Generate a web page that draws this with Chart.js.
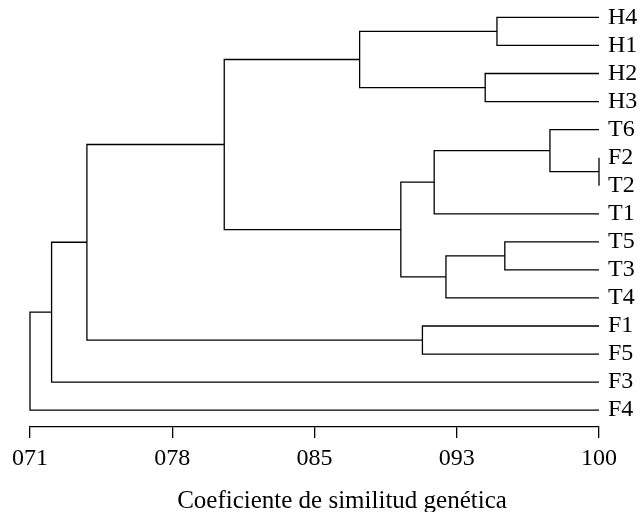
<!DOCTYPE html>
<html>
<head>
<meta charset="utf-8">
<script src="https://cdn.jsdelivr.net/npm/chart.js@4.4.0/dist/chart.umd.min.js"></script>
<style>
  html, body { margin: 0; padding: 0; background: #fff; }
  #wrap { width: 640px; height: 512px; }
</style>
</head>
<body>
<div id="wrap"><canvas id="dendro"></canvas></div>
<script>
// leaves, top to bottom
const leaves = ["H4", "H1", "H2", "H3", "T6", "F2", "T2", "T1", "T5", "T3", "T4", "F1", "F5", "F3", "F4"];

// merges: ids below 15 are leaves, merge i builds cluster 15 + i
const merges = [[5, 6], [0, 1], [2, 3], [8, 9], [4, 15], [19, 7], [18, 10], [16, 17], [11, 12], [20, 21], [22, 24], [25, 23], [26, 13], [27, 14]];
const heights = [1.00, 0.948, 0.942, 0.952, 0.975, 0.916, 0.922, 0.878, 0.910, 0.899, 0.809, 0.739, 0.721, 0.710];
const leafLevel = 1.00;

// x axis
const tickValues = [0.71, 0.7825, 0.855, 0.9275, 1.00];
const tickLabels = ["071", "078", "085", "093", "100"];
const axisTitle = "Coeficiente de similitud genética";

// node positions: x = similarity, y = leaf index (clusters sit midway)
var nodeX = [], nodeY = [];
leaves.forEach(function (l, i) {
    nodeX[i] = leafLevel;
    nodeY[i] = i;
});

var links = merges.map(function (m, i) {
    var a = m[0], b = m[1], h = heights[i];
    var id = leaves.length + i;
    nodeX[id] = h;
    nodeY[id] = (nodeY[a] + nodeY[b]) / 2;
    return {
        data: [
            { x: nodeX[a], y: nodeY[a] },
            { x: h, y: nodeY[a] },
            { x: h, y: nodeY[b] },
            { x: nodeX[b], y: nodeY[b] }
        ],
        showLine: true,
        clip: false,
        borderColor: "#000",
        borderWidth: 1.3,
        borderJoinStyle: "miter",
        pointRadius: 0,
        tension: 0,
        fill: false
    };
});

// axis title drawn a bit right of the plot centre, like the original
const axisTitlePlugin = {
    id: "axisTitle",
    afterDraw: function (chart) {
        var ctx = chart.ctx;
        ctx.save();
        ctx.font = "25px 'Liberation Serif'";
        ctx.fillStyle = "#000";
        ctx.textAlign = "center";
        ctx.textBaseline = "alphabetic";
        ctx.fillText(axisTitle, 342, 508);
        ctx.restore();
    }
};

var yMin = -0.62, yMax = 14.6;

var ctxD = document.getElementById("dendro").getContext("2d");
var dendroChart = new Chart(ctxD, {
    type: "scatter",
    data: { datasets: links },
    plugins: [axisTitlePlugin],
    options: {
        responsive: true,
        maintainAspectRatio: false,
        animation: false,
        events: [],
        layout: { padding: 0 },
        plugins: {
            legend: { display: false },
            tooltip: { enabled: false }
        },
        scales: {
            x: {
                type: "linear",
                position: "bottom",
                min: 0.71,
                max: 1.00,
                afterBuildTicks: function (scale) {
                    scale.ticks = tickValues.map(function (v) { return { value: v }; });
                },
                afterFit: function (scale) {
                    scale.height = 85;
                    scale.paddingLeft = 0;
                    scale.paddingRight = 0;
                },
                grid: {
                    drawOnChartArea: false,
                    drawTicks: true,
                    tickLength: 11,
                    color: "#000",
                    lineWidth: 1.3
                },
                border: { display: true, color: "#000", width: 1.3 },
                ticks: {
                    padding: 6,
                    color: "#000",
                    maxRotation: 0,
                    autoSkip: false,
                    font: { family: "'Liberation Serif'", size: 24 },
                    callback: function (v, i) { return tickLabels[i]; }
                }
            },
            y: {
                type: "linear",
                position: "left",
                min: yMin,
                max: yMax,
                reverse: true,
                afterFit: function (scale) {
                    scale.width = 30;
                    scale.paddingTop = 0;
                    scale.paddingBottom = 0;
                },
                grid: { display: false },
                border: { display: false },
                ticks: { display: false }
            },
            y2: {
                type: "linear",
                position: "right",
                min: yMin,
                max: yMax,
                reverse: true,
                afterBuildTicks: function (scale) {
                    scale.ticks = leaves.map(function (l, i) { return { value: i }; });
                },
                afterFit: function (scale) {
                    scale.width = 41;
                    scale.paddingTop = 0;
                    scale.paddingBottom = 0;
                },
                grid: { display: false, drawTicks: false },
                border: { display: false },
                ticks: {
                    padding: 9,
                    color: "#000",
                    autoSkip: false,
                    font: { family: "'Liberation Serif'", size: 24 },
                    callback: function (v) { return leaves[v]; }
                }
            }
        }
    }
});
</script>
</body>
</html>
